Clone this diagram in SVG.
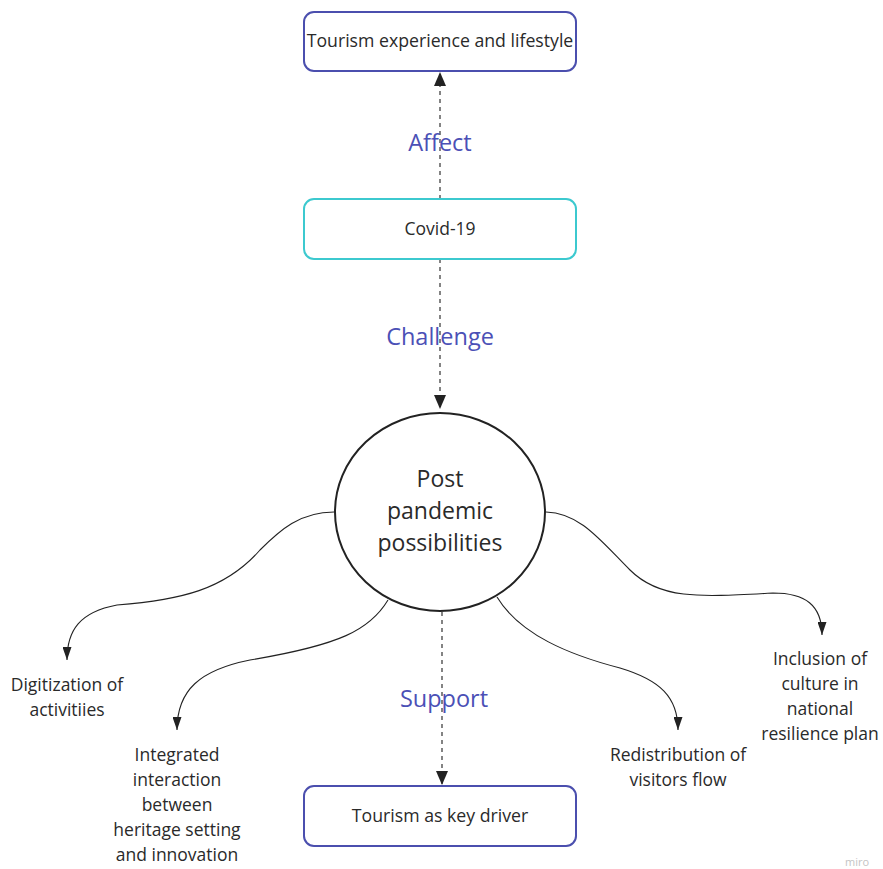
<svg xmlns="http://www.w3.org/2000/svg" width="883" height="869" viewBox="0 0 883 869">
<defs>
<style>
text{font-family:"Open Sans","Liberation Sans",sans-serif;fill:#2a2a2a;text-anchor:middle}
.box{fill:#fff;stroke-width:2}
.blue{stroke:#4b4fae}
.teal{stroke:#3cc9cf}
.lbl{fill:#4b50b6;font-size:23.5px}
.dash{fill:none;stroke:#333;stroke-width:1.2;stroke-dasharray:4 4}
.curve{fill:none;stroke:#222;stroke-width:1.1}
.t16{font-size:17.5px}
</style>
<marker id="bigArrow" viewBox="0 0 14 12" refX="14" refY="6" markerWidth="14" markerHeight="12" markerUnits="userSpaceOnUse" orient="auto">
<path d="M0,0 L14,6 L0,12 Z" fill="#222"/>
</marker>
<marker id="smallArrow" viewBox="0 0 13 9" refX="13" refY="4.5" markerWidth="13" markerHeight="9" markerUnits="userSpaceOnUse" orient="auto">
<path d="M0,0 L13,4.5 L0,9 Z" fill="#222"/>
</marker>
</defs>
<rect width="883" height="869" fill="#fff"/>

<g id="connectors">
<path class="dash" d="M440,199 L440,72" marker-end="url(#bigArrow)"/>
<path class="dash" d="M440,259 L440,409" marker-end="url(#bigArrow)"/>
<path class="dash" d="M442,612 L442,785" marker-end="url(#bigArrow)"/>
<path class="curve" d="M334,512 C300,512 280,530 260,550 C225,590 180,600 117,605 C80,612 67,630 67,660" marker-end="url(#smallArrow)"/>
<path class="curve" d="M388,600 C370,630 340,645 250,660 C200,670 177,690 177,730" marker-end="url(#smallArrow)"/>
<path class="curve" d="M546,512 C580,513 600,540 630,570 C660,600 700,597 773,593 C805,593 822,605 822,635" marker-end="url(#smallArrow)"/>
<path class="curve" d="M497,597 C520,635 570,655 620,668 C660,680 678,697 678,730" marker-end="url(#smallArrow)"/>
<text class="lbl" x="440" y="151">Affect</text>
<text class="lbl" x="440" y="345">Challenge</text>
<text class="lbl" x="444" y="707">Support</text>
</g>

<g id="node-tourism-experience">
<rect class="box blue" x="304" y="12" width="272" height="59" rx="10"/>
<text x="440" y="47" font-size="17.7">Tourism experience and lifestyle</text>
</g>

<g id="node-covid">
<rect class="box teal" x="304" y="199" width="272" height="60" rx="10"/>
<text x="440" y="235" font-size="17.5">Covid-19</text>
</g>

<g id="node-post-pandemic">
<ellipse cx="440" cy="512" rx="105" ry="99" fill="#fff" stroke="#222" stroke-width="2"/>
<text x="440" y="487" font-size="23">Post</text>
<text x="440" y="519" font-size="23">pandemic</text>
<text x="440" y="551" font-size="23">possibilities</text>
</g>

<g id="node-key-driver">
<rect class="box blue" x="304" y="786" width="272" height="60" rx="10"/>
<text x="440" y="822" font-size="17.7">Tourism as key driver</text>
</g>

<g id="node-digitization">
<text class="t16" x="67" y="691">Digitization of</text>
<text class="t16" x="67" y="716">activitiies</text>
</g>

<g id="node-integrated">
<text class="t16" x="177" y="761">Integrated</text>
<text class="t16" x="177" y="786">interaction</text>
<text class="t16" x="177" y="811">between</text>
<text class="t16" x="177" y="836">heritage setting</text>
<text class="t16" x="177" y="861">and innovation</text>
</g>

<g id="node-redistribution">
<text class="t16" x="678" y="761">Redistribution of</text>
<text class="t16" x="678" y="786">visitors flow</text>
</g>

<g id="node-inclusion">
<text class="t16" x="820" y="665">Inclusion of</text>
<text class="t16" x="820" y="690">culture in</text>
<text class="t16" x="820" y="715">national</text>
<text class="t16" x="820" y="740">resilience plan</text>
</g>

<text x="857" y="866" font-size="11" style="fill:#c4c4c4">miro</text>
</svg>
